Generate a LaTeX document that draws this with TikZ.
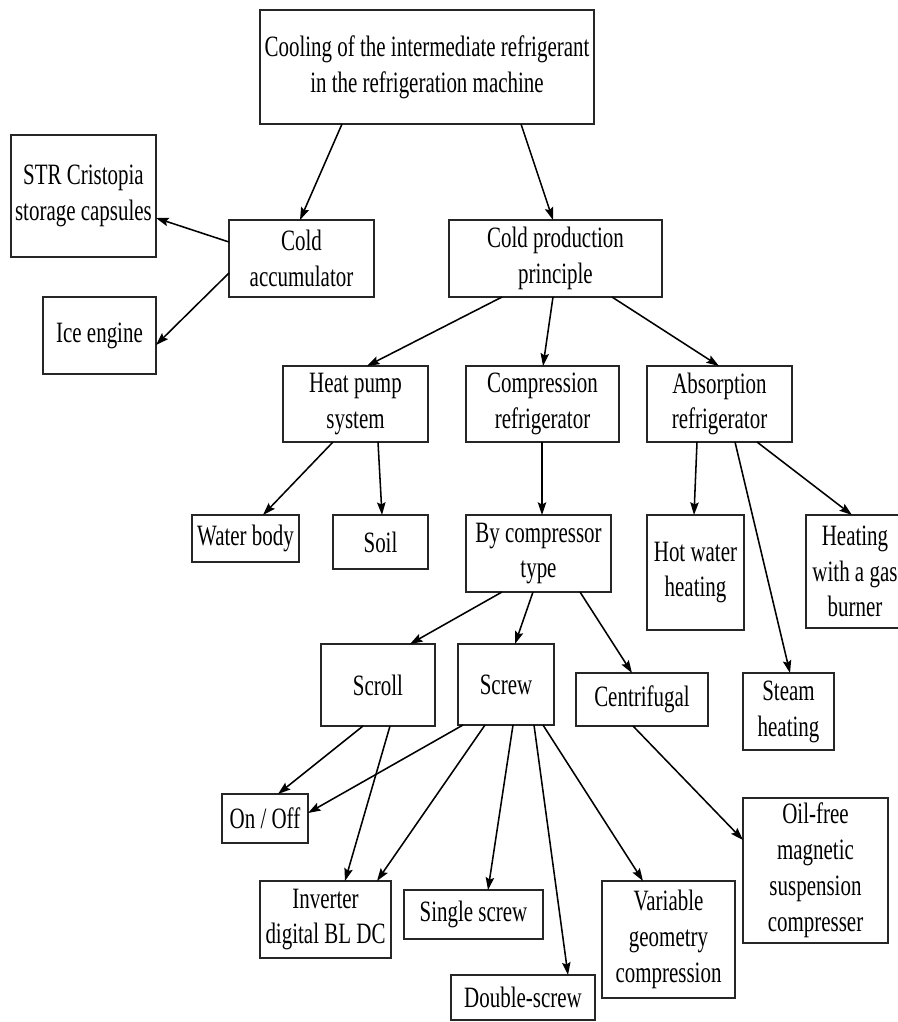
\documentclass[tikz,border=0pt]{standalone}
\usepackage{fontspec}
\setmainfont{Liberation Serif}[FakeStretch=0.71]
\usetikzlibrary{arrows.meta}
\def\p{*0.025cm}
\newcommand\bx[6]{\node[box, minimum width={(#4-#2)\p}, minimum height={(#5-#3)\p}] (#1) at ({(#2+#4)/2},{(#3+#5)/2}) {#6};}
\begin{document}
\begin{tikzpicture}[x=0.025cm,y=-0.025cm,
  box/.style={draw=black!85, line width=1.3pt, inner sep=0pt, outer sep=0pt, align=center,
    font=\fontsize{21}{25.5}\selectfont},
  arr/.style={-{Stealth[length=9pt,width=6pt,inset=1.5pt]}, line width=1.1pt}]
\useasboundingbox[fill=white] (0,0) rectangle (898,1022);
\bx{root}{260}{10}{594}{124}{Cooling of the intermediate refrigerant\\in the refrigeration machine}
\bx{str}{11}{135}{156}{257}{STR Cristopia\\storage capsules}
\bx{acc}{229}{220}{374}{297}{Cold\\accumulator}
\bx{ice}{43}{297}{156}{374}{Ice engine}
\bx{prod}{449}{220}{662}{297}{Cold production\\principle}
\bx{heat}{283}{366}{428}{442}{Heat pump\\system}
\bx{comp}{466}{366}{619}{442}{Compression\\refrigerator}
\bx{abs}{647}{366}{792}{442}{Absorption\\refrigerator}
\bx{water}{192}{515}{299}{562}{Water body}
\bx{soil}{333}{515}{428}{569}{Soil}
\bx{bytype}{466}{515}{611}{592}{By compressor\\type}
\bx{hot}{647}{515}{744}{630}{Hot water\\heating}
\bx{gas}{806}{515}{904}{628}{Heating\\with a gas\\burner}
\bx{scroll}{321}{644}{435}{726}{Scroll}
\bx{screw}{458}{644}{554}{725}{Screw}
\bx{centr}{576}{673}{708}{726}{Centrifugal}
\bx{steam}{743}{673}{834}{750}{Steam\\heating}
\bx{onoff}{222}{794}{308}{843}{On / Off}
\bx{inv}{260}{881}{391}{958}{Inverter\\digital BL DC}
\bx{single}{404}{890}{543}{939}{Single screw}
\bx{double}{451}{975}{595}{1020}{Double-screw}
\bx{var}{602}{881}{735}{998}{Variable\\geometry\\compression}
\bx{oil}{743}{798}{888}{943}{Oil-free\\magnetic\\suspension\\compresser}

\draw[arr] ([xshift=-85\p]root.south) -- ([xshift=-1.5\p]acc.north);
\draw[arr] ([xshift=94\p]root.south) -- ([xshift=-2.5\p]prod.north);
\draw[arr] ([yshift=16.5\p]acc.west) -- ([yshift=-22\p]str.east);
\draw[arr] ([yshift=-14.5\p]acc.west) -- ([yshift=-9.5\p]ice.east);
\draw[arr] ([xshift=-53.5\p]prod.south) -- ([xshift=11.5\p]heat.north);
\draw[arr] ([xshift=-2.5\p]prod.south) -- ([xshift=0.5\p]comp.north);
\draw[arr] ([xshift=56.5\p]prod.south) -- ([xshift=-0.5\p]abs.north);
\draw[arr] ([xshift=-22.5\p]heat.south) -- ([xshift=17.5\p]water.north);
\draw[arr] ([xshift=22.5\p]heat.south) -- ([xshift=1.5\p]soil.north);
\draw[arr] ([xshift=-0.5\p]comp.south) -- ([xshift=3.5\p]bytype.north);
\draw[arr] ([xshift=-22.5\p]abs.south) -- ([xshift=-1.5\p]hot.north);
\draw[arr] ([xshift=15.5\p]abs.south) -- ([xshift=1.5\p]steam.north);
\draw[arr] ([xshift=37.5\p]abs.south) -- ([xshift=-3\p]gas.north);
\draw[arr] ([xshift=-36.5\p]bytype.south) -- ([xshift=32\p]scroll.north);
\draw[arr] ([xshift=-5.5\p]bytype.south) -- ([xshift=9\p]screw.north);
\draw[arr] ([xshift=41.5\p]bytype.south) -- ([xshift=-10\p]centr.north);
\draw[arr] ([xshift=-15\p]scroll.south) -- ([xshift=13\p]onoff.north);
\draw[arr] ([xshift=12\p]scroll.south) -- ([xshift=19.5\p]inv.north);
\draw[arr] ([xshift=-43\p]screw.south) -- ([yshift=5.5\p]onoff.east);
\draw[arr] ([xshift=-21\p]screw.south) -- ([xshift=51.5\p]inv.north);
\draw[arr] ([xshift=7\p]screw.south) -- ([xshift=14.5\p]single.north);
\draw[arr] ([xshift=28\p]screw.south) -- ([xshift=45\p]double.north);
\draw[arr] ([xshift=37\p]screw.south) -- ([xshift=-25.5\p]var.north);
\draw[arr] ([xshift=-9\p]centr.south) -- ([yshift=30.5\p]oil.west);
\end{tikzpicture}
\end{document}
